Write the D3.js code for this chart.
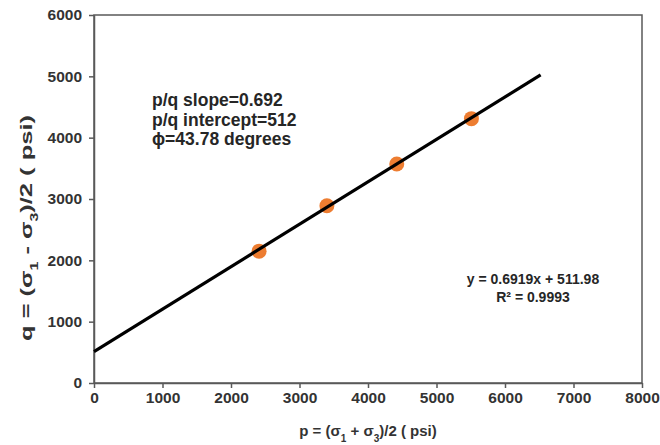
<!DOCTYPE html>
<html>
<head>
<meta charset="utf-8">
<script src="https://cdn.jsdelivr.net/npm/d3@7"></script>
<style>
  body { margin: 0; background: #fff; }
  svg text { font-family: "Liberation Sans", Arial, sans-serif; font-weight: bold; fill: #333; }
</style>
</head>
<body>
<script>
// data
const P_VALUES = [2410, 3400, 4420, 5510];
const Q_VALUES = [2150, 2890, 3570, 4310];
const TREND_P = [0, 6520];
const TREND_Q = [512, 5023];
const X_TICKS = [0, 1000, 2000, 3000, 4000, 5000, 6000, 7000, 8000];
const Y_TICKS = [0, 1000, 2000, 3000, 4000, 5000, 6000];
const NOTE_LINES = ["p/q slope=0.692", "p/q intercept=512", "ϕ=43.78 degrees"];
const EQ_LINES = ["y = 0.6919x + 511.98", "R² = 0.9993"];

const WIDTH = 660;
const HEIGHT = 445;
const MARGIN = {top: 15, right: 18, bottom: 62, left: 94};
const AXIS_COLOR = "#595959";
const DOT_COLOR = "#ED7D31";

const svg = d3.select("body").append("svg")
  .attr("width", WIDTH)
  .attr("height", HEIGHT);

const xScale = d3.scaleLinear().domain([0, 8000]).range([MARGIN.left, WIDTH - MARGIN.right]);
const yScale = d3.scaleLinear().domain([0, 6000]).range([HEIGHT - MARGIN.bottom, MARGIN.top]);

//the frame round the plot
svg.append("rect")
  .attr("x", xScale(0))
  .attr("y", yScale(6000))
  .attr("width", xScale(8000) - xScale(0))
  .attr("height", yScale(0) - yScale(6000))
  .attr("fill", "none")
  .attr("stroke", AXIS_COLOR)
  .attr("stroke-width", 1.5);

//the axis
const setAxis = () => {
  const xAxis = d3.axisBottom(xScale).tickValues(X_TICKS).tickFormat(d3.format("d"))
    .tickSize(5).tickSizeOuter(0).tickPadding(4);
  const yAxis = d3.axisLeft(yScale).tickValues(Y_TICKS).tickFormat(d3.format("d"))
    .tickSize(5).tickSizeOuter(0).tickPadding(7);

  const gx = svg.append("g")
    .attr("transform", "translate(0," + yScale(0) + ")")
    .call(xAxis);
  const gy = svg.append("g")
    .attr("transform", "translate(" + xScale(0) + ",0)")
    .call(yAxis);

  [gx, gy].forEach(g => {
    g.select(".domain").attr("stroke", AXIS_COLOR).attr("stroke-width", 1.5);
    g.selectAll(".tick line").attr("stroke", AXIS_COLOR).attr("stroke-width", 1.5);
    g.selectAll(".tick text").style("font-size", "15.5px").attr("fill", "#333");
  });
};

//axis titles with subscripts
const axisTitle = (g, letter, sign) => {
  const t = g.append("text").attr("text-anchor", "middle").style("font-size", "15px");
  t.append("tspan").text(letter + " = (σ");
  t.append("tspan").attr("baseline-shift", "sub").style("font-size", "10px").text("1");
  t.append("tspan").text(" " + sign + " σ");
  t.append("tspan").attr("baseline-shift", "sub").style("font-size", "10px").text("3");
  t.append("tspan").text(")/2 ( psi)");
  return t;
};

const setTitles = () => {
  const gx = svg.append("g").attr("transform", "translate(" + (xScale(0) + xScale(8000)) / 2 + ",436)");
  axisTitle(gx, "p", "+");
  const gy = svg.append("g").attr("transform", "translate(32,228) rotate(-90)");
  axisTitle(gy, "q", "-")
    .style("font-size", "16px")
    .attr("textLength", 226)
    .attr("lengthAdjust", "spacingAndGlyphs");
};

//trend line and points
const renderData = () => {
  const line = d3.line().x(d => xScale(d[0])).y(d => yScale(d[1]));

  svg.selectAll("circle.pt")
    .data(d3.zip(P_VALUES, Q_VALUES))
    .enter().append("circle")
    .attr("class", "pt")
    .attr("cx", d => xScale(d[0]))
    .attr("cy", d => yScale(d[1]))
    .attr("r", 7.5)
    .attr("fill", DOT_COLOR);

  // the line goes over the dots
  svg.append("path")
    .datum(d3.zip(TREND_P, TREND_Q))
    .attr("d", line)
    .attr("fill", "none")
    .attr("stroke", "#000")
    .attr("stroke-width", 3.2);
};

//the notes
const setNotes = () => {
  svg.selectAll("text.note")
    .data(NOTE_LINES)
    .enter().append("text")
    .attr("class", "note")
    .attr("x", 152)
    .attr("y", (d, i) => 106 + i * 19.5)
    .style("font-size", "17.5px")
    .style("fill", "#262626")
    .text(d => d);

  svg.selectAll("text.eq")
    .data(EQ_LINES)
    .enter().append("text")
    .attr("class", "eq")
    .attr("x", 533)
    .attr("y", (d, i) => 284 + i * 18)
    .attr("text-anchor", "middle")
    .style("font-size", "14px")
    .style("fill", "#262626")
    .text(d => d);
};

setAxis();
setTitles();
renderData();
setNotes();
</script>
</body>
</html>
